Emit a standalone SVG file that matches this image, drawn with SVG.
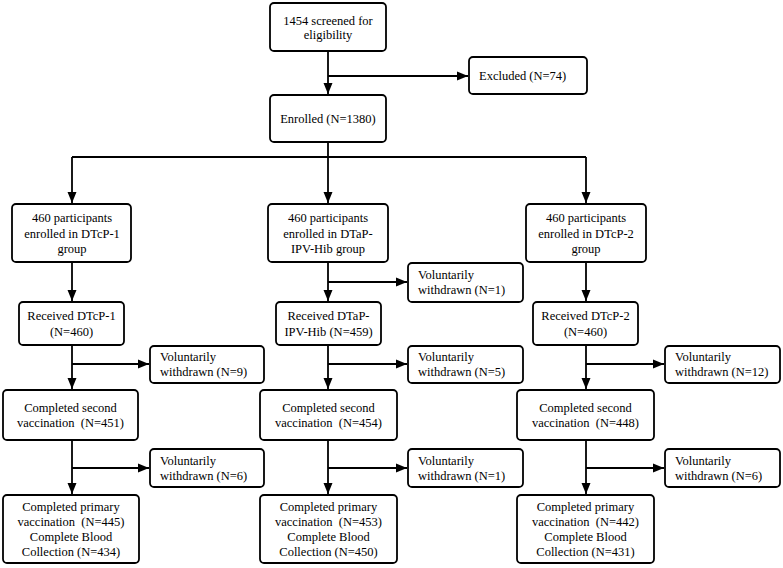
<svg xmlns="http://www.w3.org/2000/svg" width="783" height="568" viewBox="0 0 783 568">
<style>
.box{fill:#fff;stroke:#000;stroke-width:1.8}
.t{font-family:"Liberation Serif","Times New Roman",serif;font-size:12.5px;fill:#000;white-space:pre}
.c{text-anchor:middle}
.ln{fill:none;stroke:#000;stroke-width:1.8}
</style>
<defs>
<marker id="ah" markerUnits="userSpaceOnUse" markerWidth="12" markerHeight="10" refX="11" refY="5" orient="auto">
<path d="M0,0.5 L11,5 L0,9.5 Z" fill="#000"/>
</marker>
</defs>
<g id="connectors">
<path class="ln" d="M328,51 V94" marker-end="url(#ah)"/>
<path class="ln" d="M328,76 H468" marker-end="url(#ah)"/>
<path class="ln" d="M328,142 V157 M72,157 H586"/>
<path class="ln" d="M72,157 V203" marker-end="url(#ah)"/>
<path class="ln" d="M328,157 V203" marker-end="url(#ah)"/>
<path class="ln" d="M586,157 V203" marker-end="url(#ah)"/>
<path class="ln" d="M72,262 V301" marker-end="url(#ah)"/>
<path class="ln" d="M328,262 V301" marker-end="url(#ah)"/>
<path class="ln" d="M586,262 V301" marker-end="url(#ah)"/>
<path class="ln" d="M328,282 H407" marker-end="url(#ah)"/>
<path class="ln" d="M72,345 V389" marker-end="url(#ah)"/>
<path class="ln" d="M328,345 V389" marker-end="url(#ah)"/>
<path class="ln" d="M586,345 V389" marker-end="url(#ah)"/>
<path class="ln" d="M72,364 H149" marker-end="url(#ah)"/>
<path class="ln" d="M328,364 H407" marker-end="url(#ah)"/>
<path class="ln" d="M586,364 H664" marker-end="url(#ah)"/>
<path class="ln" d="M72,440 V494" marker-end="url(#ah)"/>
<path class="ln" d="M328,440 V494" marker-end="url(#ah)"/>
<path class="ln" d="M586,440 V494" marker-end="url(#ah)"/>
<path class="ln" d="M72,468 H149" marker-end="url(#ah)"/>
<path class="ln" d="M328,468 H407" marker-end="url(#ah)"/>
<path class="ln" d="M586,468 H664" marker-end="url(#ah)"/>
</g>
<g id="screened">
<rect class="box" x="270" y="3" width="116" height="48" rx="4"/>
<text class="t c" x="328" y="24.5">1454 screened for</text>
<text class="t c" x="328" y="38.5">eligibility</text>
</g>
<g id="excluded">
<rect class="box" x="469" y="57" width="118" height="37" rx="4"/>
<text class="t" x="479" y="80">Excluded (N=74)</text>
</g>
<g id="enrolled">
<rect class="box" x="270" y="95" width="116" height="47" rx="4"/>
<text class="t c" x="328" y="123">Enrolled (N=1380)</text>
</g>
<g id="group1">
<rect class="box" x="12" y="204" width="119" height="58" rx="4"/>
<text class="t c" x="72" y="222">460 participants</text>
<text class="t c" x="72" y="237.5">enrolled in DTcP-1</text>
<text class="t c" x="72" y="253">group</text>
</g>
<g id="group2">
<rect class="box" x="268" y="204" width="120" height="58" rx="4"/>
<text class="t c" x="328" y="222">460 participants</text>
<text class="t c" x="328" y="237.5">enrolled in DTaP-</text>
<text class="t c" x="328" y="253">IPV-Hib group</text>
</g>
<g id="group3">
<rect class="box" x="526" y="204" width="120" height="58" rx="4"/>
<text class="t c" x="586" y="222">460 participants</text>
<text class="t c" x="586" y="237.5">enrolled in DTcP-2</text>
<text class="t c" x="586" y="253">group</text>
</g>
<g id="withdrawn-mid-0">
<rect class="box" x="408" y="263" width="115" height="39" rx="4"/>
<text class="t" x="418" y="279">Voluntarily</text>
<text class="t" x="418" y="293.5">withdrawn (N=1)</text>
</g>
<g id="received1">
<rect class="box" x="19" y="302" width="105" height="43" rx="4"/>
<text class="t c" x="71.5" y="320">Received DTcP-1</text>
<text class="t c" x="71.5" y="336">(N=460)</text>
</g>
<g id="received2">
<rect class="box" x="276" y="302" width="105" height="43" rx="4"/>
<text class="t c" x="328.5" y="320">Received DTaP-</text>
<text class="t c" x="328.5" y="336">IPV-Hib (N=459)</text>
</g>
<g id="received3">
<rect class="box" x="533" y="302" width="105" height="43" rx="4"/>
<text class="t c" x="585.5" y="320">Received DTcP-2</text>
<text class="t c" x="585.5" y="336">(N=460)</text>
</g>
<g id="withdrawn-1a">
<rect class="box" x="150" y="346" width="114" height="37" rx="4"/>
<text class="t" x="160" y="361">Voluntarily</text>
<text class="t" x="160" y="376">withdrawn (N=9)</text>
</g>
<g id="withdrawn-2a">
<rect class="box" x="408" y="346" width="115" height="37" rx="4"/>
<text class="t" x="418" y="361">Voluntarily</text>
<text class="t" x="418" y="376">withdrawn (N=5)</text>
</g>
<g id="withdrawn-3a">
<rect class="box" x="665" y="346" width="115" height="37" rx="4"/>
<text class="t" x="675" y="361">Voluntarily</text>
<text class="t" x="675" y="376">withdrawn (N=12)</text>
</g>
<g id="second1">
<rect class="box" x="3" y="390" width="135" height="50" rx="4"/>
<text class="t c" x="70.5" y="412">Completed second</text>
<text class="t c" x="70.5" y="427">vaccination  (N=451)</text>
</g>
<g id="second2">
<rect class="box" x="260" y="390" width="137" height="50" rx="4"/>
<text class="t c" x="328.5" y="412">Completed second</text>
<text class="t c" x="328.5" y="427">vaccination  (N=454)</text>
</g>
<g id="second3">
<rect class="box" x="517" y="390" width="137" height="50" rx="4"/>
<text class="t c" x="585.5" y="412">Completed second</text>
<text class="t c" x="585.5" y="427">vaccination  (N=448)</text>
</g>
<g id="withdrawn-1b">
<rect class="box" x="150" y="449" width="114" height="38" rx="4"/>
<text class="t" x="160" y="465">Voluntarily</text>
<text class="t" x="160" y="480">withdrawn (N=6)</text>
</g>
<g id="withdrawn-2b">
<rect class="box" x="408" y="449" width="115" height="38" rx="4"/>
<text class="t" x="418" y="465">Voluntarily</text>
<text class="t" x="418" y="480">withdrawn (N=1)</text>
</g>
<g id="withdrawn-3b">
<rect class="box" x="665" y="449" width="115" height="38" rx="4"/>
<text class="t" x="675" y="465">Voluntarily</text>
<text class="t" x="675" y="480">withdrawn (N=6)</text>
</g>
<g id="primary1">
<rect class="box" x="3" y="495" width="136" height="68" rx="4"/>
<text class="t c" x="71" y="511">Completed primary</text>
<text class="t c" x="71" y="526">vaccination  (N=445)</text>
<text class="t c" x="71" y="541">Complete Blood</text>
<text class="t c" x="71" y="556">Collection (N=434)</text>
</g>
<g id="primary2">
<rect class="box" x="260" y="495" width="137" height="68" rx="4"/>
<text class="t c" x="328.5" y="511">Completed primary</text>
<text class="t c" x="328.5" y="526">vaccination  (N=453)</text>
<text class="t c" x="328.5" y="541">Complete Blood</text>
<text class="t c" x="328.5" y="556">Collection (N=450)</text>
</g>
<g id="primary3">
<rect class="box" x="517" y="495" width="137" height="68" rx="4"/>
<text class="t c" x="585.5" y="511">Completed primary</text>
<text class="t c" x="585.5" y="526">vaccination  (N=442)</text>
<text class="t c" x="585.5" y="541">Complete Blood</text>
<text class="t c" x="585.5" y="556">Collection (N=431)</text>
</g>
</svg>
